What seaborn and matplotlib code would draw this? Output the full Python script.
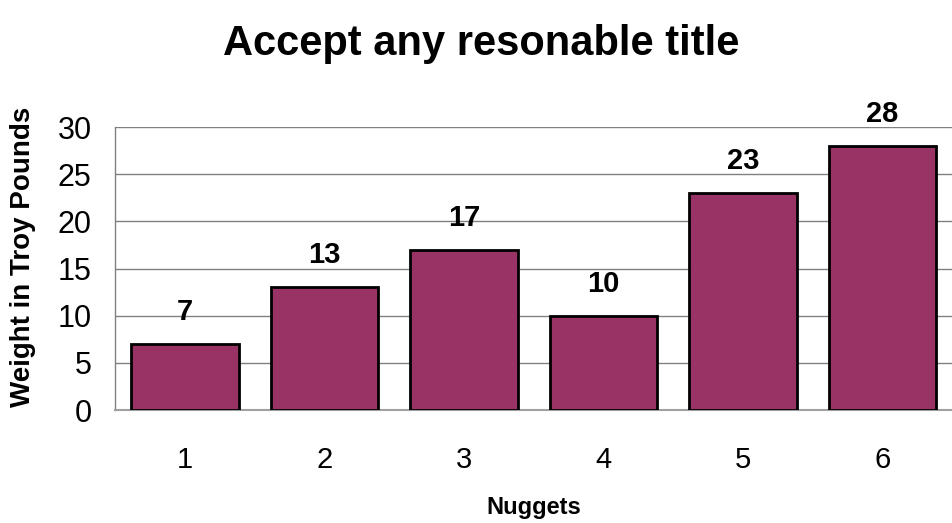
import numpy as np
import pandas as pd
import matplotlib
matplotlib.use("Agg")
import matplotlib.pyplot as plt
import seaborn as sns
from matplotlib.ticker import FixedLocator

nuggets = ["1", "2", "3", "4", "5", "6"]
weights = [7, 13, 17, 10, 23, 28]

df = pd.DataFrame({"Nuggets": nuggets, "Weight": weights})

sns.set_style("white")
plt.rcParams["font.family"] = ["Liberation Sans", "DejaVu Sans"]
plt.rcParams["text.color"] = "black"
plt.rcParams["axes.labelcolor"] = "black"
plt.rcParams["xtick.color"] = "black"
plt.rcParams["ytick.color"] = "black"

fig = plt.figure(figsize=(9.53, 5.23), dpi=100)
ax = fig.add_axes([0.121, 0.216, 0.878, 0.541])

sns.barplot(data=df, x="Nuggets", y="Weight", color="#993366", width=0.77,
            edgecolor="black", linewidth=2, saturation=1, ax=ax, zorder=3)

ax.set_xlim(-0.5, 5.5)
ax.set_ylim(0, 30)
ax.set_yticks(range(0, 31, 5))
ax.yaxis.grid(True, color="#808080", linewidth=1, zorder=0)
ax.set_axisbelow(True)

for s in ["top", "right"]:
    ax.spines[s].set_visible(False)
ax.spines["left"].set_color("#808080")
ax.spines["bottom"].set_color("#a0a0a0")
ax.spines["left"].set_linewidth(1)
ax.spines["bottom"].set_linewidth(1.5)

ax.tick_params(axis="x", which="major", length=0, pad=26, labelsize=21)
ax.xaxis.set_minor_locator(FixedLocator(np.arange(-0.5, 5.6, 1)))
ax.tick_params(axis="x", which="minor", length=8, width=1, color="#606060", direction="out")
ax.tick_params(axis="y", length=8, width=1, color="#606060", direction="out", labelsize=22, pad=9)

for i, v in enumerate(weights):
    ax.text(i, v + 3.4, str(v), ha="center", va="center", fontsize=21, fontweight="bold")

ax.set_xlabel("Nuggets", fontsize=17, fontweight="bold", va="center")
ax.xaxis.set_label_coords(0.5, -0.343)
ax.set_ylabel("Weight in Troy Pounds", fontsize=20, fontweight="bold", va="center")
ax.yaxis.set_label_coords(-0.11, 0.54)
fig.suptitle("Accept any resonable title", fontsize=30, fontweight="bold", x=0.505, y=0.955)

plt.savefig("out.png", dpi=100)
